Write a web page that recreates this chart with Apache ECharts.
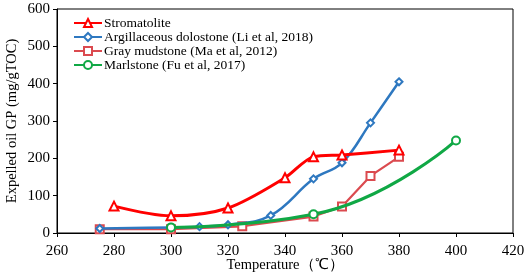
<!DOCTYPE html>
<meta charset="utf-8">
<style>
html, body { margin: 0; padding: 0; background: #fff; }
#main { width: 526px; height: 276px; }
</style>
<div id="main"></div>
<script src="https://cdn.jsdelivr.net/npm/echarts@6/dist/echarts.min.js"></script>
<script>

var seriesNames = [
    'Stromatolite',
    'Argillaceous dolostone (Li et al, 2018)',
    'Gray mudstone (Ma et al, 2012)',
    'Marlstone (Fu et al, 2017)'
];

var stromatolite = [[280, 72], [300, 46], [320, 67], [340, 148], [350, 204], [360, 209], [380, 222]];
var dolostone = [[275, 12], [300, 15], [310, 17], [320, 22], [335, 47], [350, 145], [360, 188], [370, 295], [380, 405]];
var mudstone = [[275, 10], [300, 10], [325, 18], [350, 44], [360, 71], [370, 153], [380, 204]];
var marlstone = [[300, 15], [350, 50], [400, 248]];

var font = 'Liberation Serif';

var chart = echarts.init(document.getElementById('main'));

chart.setOption({
    animation: false,
    grid: {
        left: 57,
        right: 13,
        top: 9,
        bottom: 43,
        outerBoundsMode: 'none',
        containLabel: false,
        show: true,
        borderColor: '#000',
        borderWidth: 1
    },
    legend: {
        orient: 'vertical',
        left: 73,
        top: 16,
        padding: 0,
        itemWidth: 28,
        itemHeight: 10,
        itemGap: 0,
        textStyle: { fontFamily: font, fontSize: 13.5, color: '#000', padding: [0, 0, 0, -3] },
        data: seriesNames
    },
    xAxis: {
        type: 'value',
        min: 260,
        max: 420,
        interval: 20,
        name: 'Temperature（℃）',
        nameLocation: 'middle',
        nameGap: 25,
        nameMoveOverlap: false,
        nameTextStyle: { fontFamily: font, fontSize: 14.5, color: '#000' },
        axisLine: { lineStyle: { color: '#000' } },
        axisTick: { show: true, inside: false, length: 4, lineStyle: { color: '#000' } },
        axisLabel: { fontFamily: font, fontSize: 15, color: '#000', margin: 11 },
        splitLine: { show: false }
    },
    yAxis: {
        type: 'value',
        min: 0,
        max: 600,
        interval: 100,
        name: 'Expelled oil GP (mg/gTOC)',
        nameLocation: 'middle',
        nameGap: 37,
        nameMoveOverlap: false,
        nameTextStyle: { fontFamily: font, fontSize: 14.5, color: '#000' },
        axisLine: { show: true, lineStyle: { color: '#000' } },
        axisTick: { show: true, inside: false, length: 4, lineStyle: { color: '#000' } },
        axisLabel: { fontFamily: font, fontSize: 15, color: '#000', margin: 7 },
        splitLine: { show: false }
    },
    series: [
        {
            name: seriesNames[0],
            type: 'line',
            data: stromatolite,
            smooth: 0.3,
            symbol: 'emptyTriangle',
            symbolSize: 9,
            z: 4,
            lineStyle: { color: '#ff0000', width: 3 },
            itemStyle: { color: '#ff0000', borderWidth: 1.2 }
        },
        {
            name: seriesNames[1],
            type: 'line',
            data: dolostone,
            smooth: 0.4,
            symbol: 'emptyDiamond',
            symbolSize: 7,
            z: 3,
            lineStyle: { color: '#2e78c0', width: 2.5 },
            itemStyle: { color: '#2e78c0', borderWidth: 1.2 }
        },
        {
            name: seriesNames[2],
            type: 'line',
            data: mudstone,
            smooth: false,
            symbol: 'emptyRect',
            symbolSize: 8,
            z: 2,
            lineStyle: { color: '#db4a4f', width: 2.2 },
            itemStyle: { color: '#db4a4f', borderWidth: 1.2 }
        },
        {
            name: seriesNames[3],
            type: 'line',
            data: marlstone,
            smooth: 0.5,
            symbol: 'emptyCircle',
            symbolSize: 8,
            z: 5,
            lineStyle: { color: '#10a845', width: 3 },
            itemStyle: { color: '#10a845', borderWidth: 1.2 }
        }
    ]
});

</script>
